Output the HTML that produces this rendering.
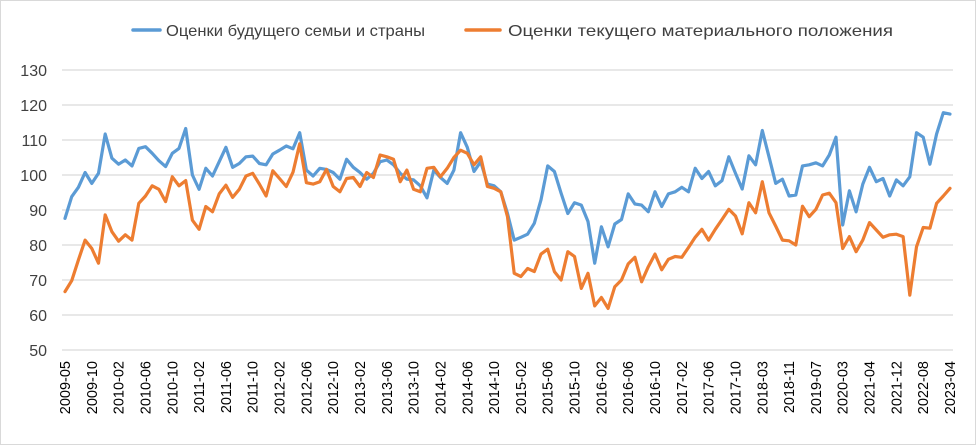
<!DOCTYPE html>
<html><head><meta charset="utf-8"><style>
body{margin:0;background:#fff}
svg{display:block;font-family:"Liberation Sans",sans-serif}
</style></head><body>
<svg id="chart" width="976" height="445" viewBox="0 0 976 445" xmlns="http://www.w3.org/2000/svg">
<rect x="0.5" y="0.5" width="975" height="444" fill="#fff" stroke="#d9d9d9"/>
<g>
<line x1="133" y1="30" x2="160" y2="30" stroke="#5B9BD5" stroke-width="3.5" stroke-linecap="round"/>
<text x="166" y="36" font-size="16" fill="#404040" textLength="259" lengthAdjust="spacingAndGlyphs">Оценки будущего семьи и страны</text>
<line x1="466" y1="30" x2="500" y2="30" stroke="#ED7D31" stroke-width="3.5" stroke-linecap="round"/>
<text x="508" y="36" font-size="16" fill="#404040" textLength="385" lengthAdjust="spacingAndGlyphs">Оценки текущего материального положения</text>
</g>
<g id="grid"></g><g id="yt"></g><g id="xt"></g><g id="series"></g>
</svg>
<script>
const yTicks=[50,60,70,80,90,100,110,120,130];
const tickLabels=["2009-05","2009-10","2010-02","2010-06","2010-10","2011-02","2011-06","2011-10","2012-02","2012-06","2012-10","2013-02","2013-06","2013-10","2014-02","2014-06","2014-10","2015-02","2015-06","2015-10","2016-02","2016-06","2016-10","2017-02","2017-06","2017-10","2018-03","2018-11","2019-07","2020-03","2021-04","2021-12","2022-08","2023-04"];
const futureValues=[87.6,93.8,96.5,100.7,97.6,100.5,111.7,104.8,103.1,104.3,102.6,107.6,108.1,106.2,104.1,102.4,106.2,107.6,113.3,100,95.9,101.9,99.7,103.8,107.9,102.2,103.3,105.2,105.4,103.3,102.9,106,107.1,108.3,107.5,112.1,101.4,99.7,101.9,101.6,100.7,98.8,104.5,102.2,100.7,98.8,100.5,103.8,104.3,102.9,100.5,98.8,98.6,96.9,93.5,101.4,99.3,97.6,101.4,112.1,107.9,101,103.8,97.4,96.9,95.2,89,81.4,82.2,83.1,86.2,92.9,102.6,101,94.8,89,92.1,91.4,86.7,74.8,85.2,79.5,86,87.3,94.6,91.7,91.4,89.5,95.2,91,94.6,95.2,96.5,95.2,101.9,99,101,96.9,98.4,105.2,100.5,96,105.5,102.9,112.7,105.2,97.6,98.8,94,94.3,102.6,102.9,103.5,102.6,105.7,110.8,85.7,95.5,89.5,97.4,102.2,98.1,99,94,98.6,96.9,99.5,112.1,110.8,103.1,111.7,117.8,117.4];
const currentValues=[66.7,69.8,75.7,81.4,79,74.8,88.6,83.8,81.1,82.9,81.4,91.9,94,96.9,95.9,92.4,99.5,96.9,98.4,87.1,84.5,91,89.5,94.6,97.1,93.6,95.9,99.7,100.5,97.4,94,101.2,99,96.7,100.8,108.9,97.8,97.4,98.1,101.6,96.7,95.2,99,99.3,96.7,100.7,99.3,105.7,105.2,104.5,98.1,101.4,95.9,95.2,101.9,102.2,99.5,101.9,105,107.1,106.2,102.9,105.2,96.7,96.2,95.2,88.1,71.9,71,73.3,72.4,77.4,78.8,72.4,70,78.1,76.7,67.6,71.9,62.6,65,61.9,68.1,70,74.6,76.5,69.5,73.8,77.4,72.9,75.9,76.7,76.5,79.3,82.2,84.5,81.4,84.5,87.3,90.2,88.3,83.2,92.1,89.2,98.1,89.2,85.4,81.4,81.2,80,91.1,88.1,90.2,94.3,94.8,92.1,79,82.4,78.1,81.4,86.4,84.3,82.2,82.9,83.1,82.4,65.7,79.5,85,84.8,91.9,94,96.2];
const NS="http://www.w3.org/2000/svg";
const x0=65,x1=950,gx0=62,gx1=953,n=futureValues.length;
const xs=i=>x0+(x1-x0)*i/(n-1);
const ys=v=>350-(v-50)*3.5;
function mk(t,a,p){const e=document.createElementNS(NS,t);for(const k in a)e.setAttribute(k,a[k]);p.appendChild(e);return e;}
const grid=document.getElementById('grid'),yt=document.getElementById('yt'),xt=document.getElementById('xt'),ser=document.getElementById('series');
yTicks.forEach(v=>{
 const l=mk('line',{x1:gx0,x2:gx1,y1:ys(v),y2:ys(v),stroke:'#d9d9d9','stroke-width':1.3},grid);
 
 
 const t=mk('text',{x:47,y:ys(v)+6,'text-anchor':'end','font-size':16,fill:'#404040'},yt);
 t.textContent=v;
 
 
});
tickLabels.forEach((lab,k)=>{
 const x=xs(k*4)+5;
 const t=mk('text',{x:0,y:0,transform:`translate(${x},361) rotate(-90)`,'text-anchor':'end','font-size':14.5,fill:'#000'},xt);
 t.textContent=lab;
 
 
});
function line(vals,color,name){
 const d=vals.map((v,i)=>(i?'L':'M')+xs(i).toFixed(1)+' '+ys(v).toFixed(1)).join(' ');
 const p=mk('path',{d:d,fill:'none',stroke:color,'stroke-width':3.2,'stroke-linejoin':'round','stroke-linecap':'round'},ser);
 
 
}
line(futureValues,'#5B9BD5','series-future-line');
line(currentValues,'#ED7D31','series-current-line');
</script>
</body></html>
